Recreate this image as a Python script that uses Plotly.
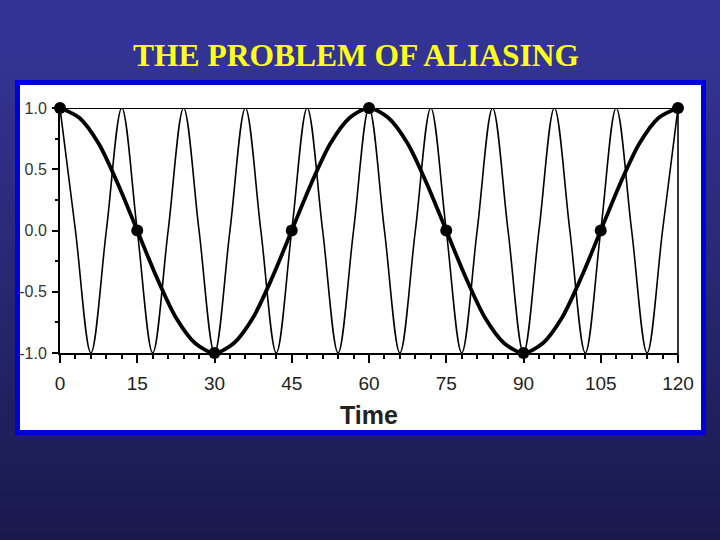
import plotly.graph_objects as go

# ---- data ----
# fast (true) signal: period 12, peaks/troughs/zero crossings every 3 time units
t_fast = [0, 3, 6, 9, 12, 15, 18, 21, 24, 27, 30, 33, 36, 39, 42, 45, 48, 51, 54, 57,
          60, 63, 66, 69, 72, 75, 78, 81, 84, 87, 90, 93, 96, 99, 102, 105, 108, 111,
          114, 117, 120]
y_fast = [1, 0, -1, 0, 1, 0, -1, 0, 1, 0, -1, 0, 1, 0, -1, 0, 1, 0, -1, 0,
          1, 0, -1, 0, 1, 0, -1, 0, 1, 0, -1, 0, 1, 0, -1, 0, 1, 0,
          -1, 0, 1]

# aliased (apparent) signal: period 60
t_alias = [0, 3.75, 7.5, 11.25, 15, 18.75, 22.5, 26.25, 30, 33.75, 37.5, 41.25, 45, 48.75,
           52.5, 56.25, 60, 63.75, 67.5, 71.25, 75, 78.75, 82.5, 86.25, 90, 93.75, 97.5,
           101.25, 105, 108.75, 112.5, 116.25, 120]
y_alias = [1.0, 0.92, 0.71, 0.38, 0.0, -0.38, -0.71, -0.92, -1.0, -0.92, -0.71, -0.38, 0.0, 0.38,
           0.71, 0.92, 1.0, 0.92, 0.71, 0.38, 0.0, -0.38, -0.71, -0.92, -1.0, -0.92, -0.71,
           -0.38, 0.0, 0.38, 0.71, 0.92, 1.0]

# samples taken every 15 time units
t_samp = [0, 15, 30, 45, 60, 75, 90, 105, 120]
y_samp = [1.0, 0.0, -1.0, 0.0, 1.0, 0.0, -1.0, 0.0, 1.0]

# line through samples taken every 60 time units
t_slow = [0, 60, 120]
y_slow = [1.0, 1.0, 1.0]

x_tickvals = [0, 15, 30, 45, 60, 75, 90, 105, 120]
x_ticktext = ["0", "15", "30", "45", "60", "75", "90", "105", "120"]
y_tickvals = [-1.0, -0.5, 0.0, 0.5, 1.0]
y_ticktext = ["-1.0", "-0.5", "0.0", "0.5", "1.0"]

title_text = "THE PROBLEM OF ALIASING"
x_title = "Time"

W, H = 720, 540

fig = go.Figure()
fig.add_trace(go.Scatter(x=t_fast, y=y_fast, mode="lines",
                         line=dict(color="black", width=1.6, shape="spline", smoothing=1.0),
                         cliponaxis=False, showlegend=False, hoverinfo="skip"))
fig.add_trace(go.Scatter(x=t_slow, y=y_slow, mode="lines",
                         line=dict(color="black", width=2.2),
                         cliponaxis=False, showlegend=False))
fig.add_trace(go.Scatter(x=t_alias, y=y_alias, mode="lines",
                         line=dict(color="black", width=3.8, shape="spline", smoothing=0.8),
                         cliponaxis=False, showlegend=False))
fig.add_trace(go.Scatter(x=t_samp, y=y_samp, mode="markers",
                         marker=dict(color="black", size=12),
                         cliponaxis=False, showlegend=False))

shapes = []
# background vertical gradient
top = (51, 51, 147)
bot = (25, 25, 77)
n = 54
for i in range(n):
    y0px = i * 10
    y1px = (i + 1) * 10
    f = max(0.0, (y0px + 5 - 60) / (540 - 60))
    c = tuple(int(round(top[k] + (bot[k] - top[k]) * f)) for k in range(3))
    shapes.append(dict(type="rect", xref="paper", yref="paper", layer="below",
                       x0=0, x1=1, y0=1 - y1px / H, y1=1 - y0px / H,
                       line=dict(width=0), fillcolor="rgb(%d,%d,%d)" % c))
# white box with blue frame
shapes.append(dict(type="rect", xref="paper", yref="paper", layer="below",
                   x0=17.5 / W, x1=703.5 / W, y0=1 - 432.5 / H, y1=1 - 82.5 / H,
                   line=dict(color="#0000d8", width=5), fillcolor="white"))
# right frame line of the plot
shapes.append(dict(type="line", xref="x domain", yref="y domain", layer="above",
                   x0=1, x1=1, y0=-0.03, y1=1.0, line=dict(color="black", width=1.6)))
fig.update_layout(shapes=shapes)

fig.add_annotation(text=title_text, xref="paper", yref="paper",
                   x=356 / W, y=1 - 55 / H, showarrow=False,
                   xanchor="center", yanchor="middle",
                   font=dict(family="Liberation Serif, Times New Roman, serif", size=31.5,
                             color="#ffff1a", weight="bold"))

fig.update_layout(
    width=W, height=H,
    margin=dict(l=0, r=0, t=0, b=0),
    paper_bgcolor="#333393",
    plot_bgcolor="rgba(0,0,0,0)",
    xaxis=dict(domain=[60 / W, 678 / W], range=[0, 120], automargin=False,
               showgrid=False, zeroline=False,
               showline=True, linecolor="black", linewidth=2,
               tickmode="array", tickvals=x_tickvals, ticktext=x_ticktext,
               ticks="outside", ticklen=8, tickwidth=2, tickcolor="black",
               minor=dict(dtick=3, ticks="outside", ticklen=4, tickwidth=1.5, tickcolor="black"),
               tickfont=dict(family="Liberation Sans Narrow, Liberation Sans, Arial", size=19, color="#222"),
               ticklabelstandoff=4,
               title=dict(text=x_title, standoff=14,
                          font=dict(family="Liberation Sans Narrow, Liberation Sans, Arial", size=25,
                                    color="#222", weight="bold"))),
    yaxis=dict(domain=[1 - 353 / H, 1 - 108 / H], range=[-1, 1], automargin=False,
               showgrid=False, zeroline=False,
               showline=True, linecolor="black", linewidth=2,
               tickmode="array", tickvals=y_tickvals, ticktext=y_ticktext,
               ticks="outside", ticklen=6, tickwidth=2, tickcolor="black",
               minor=dict(dtick=0.25, ticks="outside", ticklen=3, tickwidth=1.5, tickcolor="black"),
               tickfont=dict(family="Liberation Sans, Arial", size=16, color="#333"),
               ticklabelstandoff=2),
)

fig.write_html("out.html", config={"displayModeBar": False},
               post_script="document.body.style.margin='0';document.body.style.background='#333393';")
